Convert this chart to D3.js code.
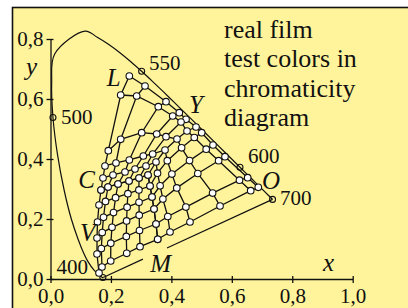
<!DOCTYPE html>
<html>
<head>
<meta charset="utf-8">
<script src="https://cdn.jsdelivr.net/npm/d3@7"></script>
<style>
  body { margin: 0; background: #fff; }
  text { font-family: "Liberation Serif", "Times New Roman", serif; fill: #111; }
</style>
</head>
<body>
<script>
// spectral locus, CIE 1931 (nm, x, y)
const locusNm = [380, 400, 420, 430, 440, 450, 460, 470, 475, 480, 485, 490, 495, 500, 505, 510, 525, 530, 535, 540, 545, 550, 555, 560, 565, 570, 575, 580, 585, 590, 595, 600, 605, 610, 620, 630, 640, 650, 660, 680, 700];
const locusX = [0.1741, 0.1733, 0.1714, 0.1689, 0.1644, 0.1566, 0.1440, 0.1241, 0.1096, 0.0913, 0.0687, 0.0454, 0.0235, 0.0082, 0.0039, 0.0139, 0.1142, 0.1547, 0.1929, 0.2296, 0.2658, 0.3016, 0.3373, 0.3731, 0.4087, 0.4441, 0.4788, 0.5125, 0.5448, 0.5752, 0.6029, 0.6270, 0.6482, 0.6658, 0.6915, 0.7079, 0.7190, 0.7260, 0.7300, 0.7334, 0.7347];
const locusY = [0.0050, 0.0048, 0.0051, 0.0069, 0.0109, 0.0177, 0.0297, 0.0578, 0.0868, 0.1327, 0.2007, 0.2950, 0.4127, 0.5384, 0.6548, 0.7502, 0.8262, 0.8059, 0.7816, 0.7543, 0.7243, 0.6923, 0.6589, 0.6245, 0.5896, 0.5547, 0.5202, 0.4866, 0.4544, 0.4242, 0.3965, 0.3725, 0.3514, 0.3340, 0.3083, 0.2920, 0.2809, 0.2740, 0.2700, 0.2666, 0.2653];
const markedNm = [400, 500, 550, 600, 700];

// test colours, one row per yellow step (top = full yellow):
// cyan steps L..W, then magenta steps W..O/M
const yellowRows = [
  [[0.2608, 0.6767], [0.3127, 0.6433], [0.3822, 0.5910], [0.4262, 0.5543], [0.4484, 0.5323], [0.4815, 0.5067], [0.5003, 0.4877], [0.5377, 0.4467], [0.5774, 0.4077], [0.6525, 0.3377], [0.6876, 0.3057]],
  [[0.2323, 0.6133], [0.2852, 0.6100], [0.3567, 0.5743], [0.4044, 0.5433], [0.4318, 0.5233], [0.4517, 0.4933], [0.4758, 0.4717], [0.5152, 0.4327], [0.5563, 0.3943], [0.6254, 0.3293], [0.6625, 0.2943]],
  [[0.1913, 0.4277], [0.2323, 0.4657], [0.3018, 0.4877], [0.3514, 0.4833], [0.3822, 0.4743], [0.4186, 0.4667], [0.4338, 0.4373], [0.4600, 0.3947], [0.4874, 0.3517], [0.5364, 0.2863], [0.5609, 0.2433]],
  [[0.1803, 0.3767], [0.2167, 0.3867], [0.2608, 0.3967], [0.3071, 0.4100], [0.3382, 0.4167], [0.3789, 0.4300], [0.3865, 0.3943], [0.4017, 0.3497], [0.4179, 0.3037], [0.4480, 0.2397], [0.4616, 0.1900]],
  [[0.1737, 0.3367], [0.2068, 0.3467], [0.2465, 0.3567], [0.2796, 0.3667], [0.3160, 0.3767], [0.3491, 0.3900], [0.3541, 0.3527], [0.3627, 0.3107], [0.3719, 0.2667], [0.3881, 0.2083], [0.3954, 0.1567]],
  [[0.1671, 0.2967], [0.1903, 0.3067], [0.2234, 0.3167], [0.2598, 0.3267], [0.2929, 0.3367], [0.3226, 0.3467], [0.3293, 0.3100], [0.3359, 0.2733], [0.3425, 0.2333], [0.3491, 0.1833], [0.3547, 0.1323]]
];
// no yellow: one row per magenta step, cyan steps W..C/V
const blueRows = [
  [[0.3226, 0.3467], [0.2929, 0.3367], [0.2598, 0.3267], [0.2234, 0.3167], [0.1903, 0.3067], [0.1671, 0.2967]],
  [[0.3293, 0.3100], [0.2925, 0.2970], [0.2561, 0.2843], [0.2154, 0.2710], [0.1820, 0.2587], [0.1605, 0.2467]],
  [[0.3359, 0.2733], [0.2929, 0.2557], [0.2535, 0.2393], [0.2085, 0.2213], [0.1754, 0.2057], [0.1555, 0.1900]],
  [[0.3425, 0.2333], [0.2935, 0.2127], [0.2518, 0.1937], [0.2035, 0.1723], [0.1711, 0.1547], [0.1539, 0.1367]],
  [[0.3491, 0.1833], [0.2945, 0.1617], [0.2508, 0.1420], [0.1995, 0.1193], [0.1681, 0.1013], [0.1539, 0.0833]],
  [[0.3547, 0.1323], [0.2962, 0.1077], [0.2522, 0.0857], [0.1992, 0.0600], [0.1704, 0.0400], [0.1605, 0.0200]]
];

const xTicks = [0, 0.2, 0.4, 0.6, 0.8, 1.0];
const yTicks = [0, 0.2, 0.4, 0.6, 0.8];
const titleLines = ["real film", "test colors in", "chromaticity", "diagram"];
const cornerNames = ["L", "Y", "O", "M", "V", "C"];
const cornerX = [0.186, 0.458, 0.700, 0.330, 0.098, 0.092];
const cornerY = [0.643, 0.553, 0.299, 0.025, 0.128, 0.303];

const W = 408, H = 308;
const x = d3.scaleLinear().domain([0, 1]).range([50.5, 352.7]);
const y = d3.scaleLinear().domain([0, 0.8]).range([279, 39]);
const comma = d => d3.format(".1f")(d).replace(".", ",");

const svg = d3.select("body").append("svg")
  .attr("width", W).attr("height", H);

// yellow sheet with black edge top and left
svg.append("rect").attr("x", 12.5).attr("y", 7.5)
  .attr("width", W).attr("height", H)
  .attr("fill", "#fff49b").attr("stroke", "#111").attr("stroke-width", 1.6);

// axes
const gx = svg.append("g").attr("transform", "translate(0," + y(0) + ")")
  .call(d3.axisBottom(x).tickValues(xTicks).tickFormat(comma).tickSizeOuter(0));
gx.selectAll(".tick line").attr("y1", -3).attr("y2", 4);
gx.selectAll(".tick text").attr("y", 9).attr("font-size", 21).attr("font-family", null);

const gy = svg.append("g").attr("transform", "translate(" + x(0) + ",0)")
  .call(d3.axisLeft(y).tickValues(yTicks).tickFormat(comma).tickSizeOuter(0));
gy.selectAll(".tick line").attr("x1", -4).attr("x2", 3);
gy.selectAll(".tick text").attr("x", -7).attr("font-size", 21).attr("font-family", null);
svg.selectAll(".domain, .tick line").attr("stroke", "#111").attr("stroke-width", 1.3);

svg.append("text").attr("x", 26).attr("y", 75).attr("font-size", 25)
  .attr("font-style", "italic").text("y");
svg.append("text").attr("x", 323).attr("y", 271).attr("font-size", 25)
  .attr("font-style", "italic").text("x");

// spectral locus and purple line (with a gap)
const locus = locusNm.map((n, i) => [locusX[i], locusY[i]]);
const line = d3.line().x(d => x(d[0])).y(d => y(d[1])).curve(d3.curveCatmullRom);
svg.append("path").attr("d", line(locus))
  .attr("fill", "none").attr("stroke", "#111").attr("stroke-width", 1.2);

const p0 = locus[0], p1 = locus[locus.length - 1];
const lerp = t => [p0[0] + (p1[0] - p0[0]) * t, p0[1] + (p1[1] - p0[1]) * t];
[[0, 0.235], [0.377, 1]].forEach(s => {
  svg.append("path").attr("d", d3.line().x(d => x(d[0])).y(d => y(d[1]))([lerp(s[0]), lerp(s[1])]))
    .attr("stroke", "#111").attr("stroke-width", 1.2);
});

markedNm.forEach(n => {
  const i = locusNm.indexOf(n);
  svg.append("circle").attr("cx", x(locusX[i])).attr("cy", y(locusY[i])).attr("r", 3)
    .attr("fill", "none").attr("stroke", "#111").attr("stroke-width", 1.1);
});
const nmLab = [[400, 88, 274, "end"], [500, 61, 124, "start"], [550, 149, 70, "start"], [600, 248, 163, "start"], [700, 280, 205, "start"]];
nmLab.forEach(d => {
  svg.append("text").attr("x", d[1]).attr("y", d[2]).attr("font-size", 21)
    .attr("text-anchor", d[3]).attr("fill", "#222").text(d[0]);
});

// mesh of test colours: rows and the columns across them
const mesh = svg.append("g");
const pts = d3.line().x(d => x(d[0])).y(d => y(d[1]));
[yellowRows, blueRows].forEach(grid => {
  grid.forEach(r => mesh.append("path").attr("d", pts(r)));
  d3.range(grid[0].length).forEach(j => mesh.append("path").attr("d", pts(grid.map(r => r[j]))));
});
mesh.selectAll("path").attr("fill", "none").attr("stroke", "#111").attr("stroke-width", 1.3);
mesh.selectAll("circle").data(yellowRows.flat().concat(blueRows.flat())).join("circle")
  .attr("cx", d => x(d[0])).attr("cy", d => y(d[1])).attr("r", 3.3)
  .attr("fill", "#fff").attr("stroke", "#111").attr("stroke-width", 1.1);

// corner letters
cornerNames.forEach((c, i) => {
  svg.append("text").attr("x", x(cornerX[i])).attr("y", y(cornerY[i]))
    .attr("font-size", 25).attr("font-style", "italic").text(c);
});

// title
svg.append("g").selectAll("text").data(titleLines).join("text")
  .attr("x", 224).attr("y", (d, i) => 37.5 + i * 29.5)
  .attr("font-size", 26).text(d => d);
</script>
</body>
</html>
